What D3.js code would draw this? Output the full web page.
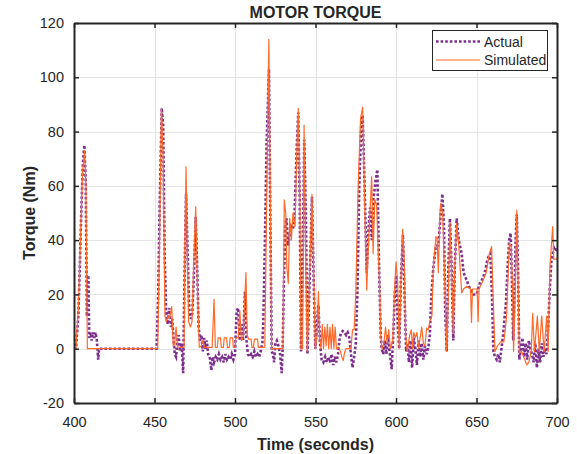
<!DOCTYPE html>
<html>
<head>
<meta charset="utf-8">
<script src="https://cdn.jsdelivr.net/npm/d3@7"></script>
<style>
  html, body { margin: 0; padding: 0; background: #fff; }
  svg text { font-family: "Liberation Sans", Arial, Helvetica, sans-serif; fill: #262626; }
</style>
</head>
<body>
<div id="chart"></div>
<script>
// time (s) and torque (Nm)
var actualTime = [400,401.2,402.7,403.6,404.5,405.5,406.4,407.3,408,408.9,409.5,410.3,411,411.8,412.6,413.4,414.2,415,415.6,451.3,
  452.3,453.3,454.5,455.4,456.3,457.2,458.2,459.2,460.2,461,461.8,462.6,463.4,464.2,465,465.8,466.8,467.8,468.6,469.6,
  470.6,471.6,472.6,473.5,474.5,475.6,476.6,477.4,478.3,479.2,480,480.8,481.7,482.5,483.3,484.3,485.3,486.2,487,488,
  489,490,491,492,493,494,495,496,497,498,499,500,501,502,503,504,505,506.2,507,508,
  509,510,511,512,513,514,515,516,517,517.6,518.6,519.6,521.1,522,522.8,523.5,524.3,525.1,526,527,
  528,529,529.6,530.4,531.2,532,533,534,535,536,537,538.2,539.3,540.2,541,542,543,544,545,546.2,
  547.8,549,549.9,551,551.8,552.8,553.8,554.9,556,557,558,559,560,561,562,563,564,565,566,567,
  568,569,570,571,572,573,574,575,576,577.2,578.4,579.3,580.5,581.8,583,583.9,585,586,587.3,588.4,
  589.5,590.5,591.1,592.1,593,594,595,596,597.3,598.3,599.2,600.2,601.2,602,603,604.3,605.3,606.3,607.2,608,
  609,610,611,612,613,614,615,616,617,618,619,620,621,622,623.2,624.8,626.3,627.8,628.8,629.8,
  630.5,631.5,632.5,633.5,634.5,635.6,636.5,637.7,639,640.8,642,644,646,648,650,652,654,655.5,656.5,657.5,
  658.6,659.6,660.5,661.5,662.5,663.5,664.5,665.5,666.5,667.5,668.3,669.3,670.3,671.2,672,672.8,673.6,674.3,675,675.8,
  676.6,677.5,678.5,679.5,680.5,681.5,682.5,683.5,684.5,685.5,686.5,687.5,688.5,689.5,690.5,691.5,692.5,693.5,694.5,695.5,
  696.5,697.3,698.2,699,700];
var actualTorque = [0,0,12,30,50,68,75,62,12,27,4,6,3,6,4,6,3,-4,0,0,
  20,55,88.6,82,35,14,9,15,8,11,4,-2,-3,3,5,-1,2,-9,25,57,
  35,14,11,13,28,48.6,28,8,3,5,-1,4,0,3,-2,-3,-8,-3,-5,-3,
  -4,-2,-4,-3,-5,-2,-4,-3,-4,-2,-4,-2,14,15,3,9,3,21,4,-2,
  -3,-2,-3,-1,-3,-2,-3,-1,2,10,40,75,103,45,-1,-2,-5,2,3,1,
  -2,-9,0,25,45,48,38,42,45,44,50,72,87,55,-1,30,77,50,-2,22,
  56,22,0,10,16,2,-4,-5,-3,-5,-3,-5,-2,-6,-3,-5,-2,4,6,6.5,
  6,5,6,4,-2,-7,-3,1.6,20,60,82,86,60,28,45,52,40,55,62,66,
  30,5,0,-2,3,-2,5,-1,-7.5,5,20,27,8,0,25,42,20,-1,2,-5,
  3,-7,4,0,-6,3,-3,2,-4,1,-2,0,5,20,30,38,38,50,57,45,
  15,-1,30,48,30,3,30,48,40,35,28,25,22,20,20,24,26,29,32,34,
  35,20,-1,-3,-4,-2,-5,0,5,12,17,30,40,42.6,25,3,20,40,49.5,30,
  -4,0,4,-3,2,-4,3,0,-2,-5,2,-7,0,-5,2,-3,0,-2,8,22,
  32,35,37,36,37];

var simTime = [400,401.2,402.7,404,405.3,406.6,407.4,408.3,452,453,454.3,455.4,456.5,457.3,458.3,459.3,460.7,461.7,462.6,463.4,
  464.3,466,468.4,468.9,469.6,470.4,471.2,472.3,473.3,474.3,475.6,476.6,477.8,479,480,481,483,485,485.8,487,
  487.8,489,489.5,491,491.5,492.8,493.3,494.8,495.3,496.5,497,498.5,499,500,500.5,502,503,504,505,506.8,
  507.6,508.5,510,510.5,511.5,512,514,514.5,518.5,521,522.8,529.8,530.6,531.5,532.2,533.1,534,535,536,537.3,
  538.3,539.3,540.3,541,542,542.9,544,544.9,546,547.8,549,549.9,551,551.8,552.6,553.4,554.2,555,555.8,556.6,
  557.4,558.2,559,559.8,560.6,561.4,562.2,563,564.5,565.5,566.3,567.2,568.2,569,571,572,573,574,575,576.5,
  578,579.3,580.5,581.8,583,584.9,585.8,586.8,588,589,589.8,590.5,591.3,592.5,593.5,594.5,595.5,596.5,598,599,
  600,601,602,603.3,604.1,605,606,607,608.5,609.5,610.3,611,612,613,614,615,616,617,618,619,
  620,621,622.3,623.2,624.8,625.5,626.3,627.3,627.8,629,630.5,631.5,632.5,633.5,634.5,635.6,636.5,637.7,639,640.8,
  642,644,646.3,646.9,647.5,650.4,651,651.6,654,656,658,659.4,660.3,661.5,663,665,667,668.7,669.5,670.4,
  671.5,672.5,673,674,675,676.6,678,680,681.2,682.5,684,684.9,686,687.8,689,690.5,692,693.6,694.5,695.6,
  697.3,698,700];
var simTorque = [0,0,15,40,65,73,60,0,0,35,88.6,70,12,10,12,11,15.5,0.7,2,8,
  0.7,0.5,0.5,40,67,35,10,8,10,30,52.3,25,0.5,1,3,0.5,0.5,0.5,0.5,18.2,
  0.5,0.5,4,4,0.5,0.5,4,4,0.5,0.5,4,4,0.5,0.5,4,4,14,3,4,28,
  5,3.5,3.5,0.5,0.5,3.5,3.5,0.5,0.5,114,0,0,54.8,50,30,24,48,40,50,45,
  70,88.6,55,0,0,82.4,30,-1,20,56.9,25,0,5,21,4,0,9,0,8,1,
  9,0,8,0,9,0,8,0,0.5,-1,-3,-4.4,-1,0,0,0,7,7,20,60,
  85,89,55,21.6,40,63.4,35,55,53,35,24.6,5,0,2,8,2,7,0,3,20,
  32,25,0,30,44,35,5,-1,5,7,0,6,4,6,0,4,8,2,1,7.6,
  7,10,12,30.2,41.3,41,28,50,53.6,50,20,-1,20,46.3,30,5.8,30,46.3,38,20.5,
  22,23,22,9.7,22,22,10,22,25,28,35,37.6,20,-1,1,2.5,2.5,11.8,25,38.8,
  38,20,-1,20,51.1,-1.6,-1,-4,-6,-5,-1,13,-1,12,-1,12,-1,12,-1,30,
  45,33,33];

var xTicks = [400, 450, 500, 550, 600, 650, 700];
var yTicks = [-20, 0, 20, 40, 60, 80, 100, 120];
var seriesNames = ["Actual", "Simulated"];

var W = 577, H = 454;
var plotL = 74, plotR = 557, plotT = 23, plotB = 403;
var ink = "#262626";
var purple = "#7E2F8E", orange = "#FF6929";

var svg = d3.select("#chart").append("svg")
    .attr("width", W)
    .attr("height", H);

var x = d3.scaleLinear().domain([400, 700]).range([plotL, plotR]);
var y = d3.scaleLinear().domain([-20, 120]).range([plotB, plotT]);

// grid
var grid = svg.append("g").attr("stroke", "#e5e5e5").attr("stroke-width", 1);
grid.selectAll(".gx").data(xTicks.slice(1, -1)).enter().append("line")
    .attr("x1", d => Math.round(x(d)) + 0.5).attr("x2", d => Math.round(x(d)) + 0.5)
    .attr("y1", plotT).attr("y2", plotB);
grid.selectAll(".gy").data(yTicks.slice(1, -1)).enter().append("line")
    .attr("y1", d => Math.round(y(d)) + 0.5).attr("y2", d => Math.round(y(d)) + 0.5)
    .attr("x1", plotL).attr("x2", plotR);

svg.append("clipPath").attr("id", "plot")
    .append("rect").attr("x", plotL).attr("y", plotT)
    .attr("width", plotR - plotL).attr("height", plotB - plotT);

var line = d3.line().x(d => x(d[0])).y(d => y(d[1]));
var actual = actualTime.map((t, i) => [t, actualTorque[i]]);
var sim = simTime.map((t, i) => [t, simTorque[i]]);

svg.append("path").datum(actual)
    .attr("clip-path", "url(#plot)")
    .attr("fill", "none")
    .attr("stroke", purple)
    .attr("stroke-width", 2.6)
    .attr("stroke-dasharray", "2.6,2")
    .attr("d", line);

svg.append("path").datum(sim)
    .attr("clip-path", "url(#plot)")
    .attr("fill", "none")
    .attr("stroke", orange)
    .attr("stroke-width", 1.2)
    .attr("stroke-linejoin", "round")
    .attr("d", line);

// axes, MATLAB style box with inward ticks
var plain = d => String(d);
function styleAxis(g) {
    g.select(".domain").attr("stroke", ink).attr("stroke-width", 2);
    g.selectAll(".tick line").attr("stroke", ink).attr("stroke-width", 1.5);
    g.selectAll("text").attr("font-size", "14.5px").attr("fill", ink)
        .attr("font-family", '"Liberation Sans", Arial, sans-serif');
}
svg.append("g").attr("transform", "translate(0," + plotB + ")")
    .call(d3.axisBottom(x).tickValues(xTicks).tickFormat(plain).tickSizeInner(-5).tickSizeOuter(0).tickPadding(14))
    .call(styleAxis);
svg.append("g").attr("transform", "translate(0," + plotT + ")")
    .call(d3.axisTop(x).tickValues(xTicks).tickSizeInner(-5).tickSizeOuter(0).tickFormat(""))
    .call(styleAxis);
svg.append("g").attr("transform", "translate(" + plotL + ",0)")
    .call(d3.axisLeft(y).tickValues(yTicks).tickFormat(plain).tickSizeInner(-5).tickSizeOuter(0).tickPadding(10))
    .call(styleAxis);
svg.append("g").attr("transform", "translate(" + plotR + ",0)")
    .call(d3.axisRight(y).tickValues(yTicks).tickSizeInner(-5).tickSizeOuter(0).tickFormat(""))
    .call(styleAxis);

// titles
svg.append("text").attr("x", (plotL + plotR) / 2).attr("y", 18)
    .attr("text-anchor", "middle").attr("font-size", "16px").attr("font-weight", "bold")
    .text("MOTOR TORQUE");
svg.append("text").attr("x", (plotL + plotR) / 2).attr("y", 450)
    .attr("text-anchor", "middle").attr("font-size", "16px").attr("font-weight", "bold")
    .text("Time (seconds)");
svg.append("text").attr("transform", "translate(35," + ((plotT + plotB) / 2) + ") rotate(-90)")
    .attr("text-anchor", "middle").attr("font-size", "16px").attr("font-weight", "bold")
    .text("Torque (Nm)");

// legend
var lg = svg.append("g");
lg.append("rect").attr("x", 432.5).attr("y", 30.5).attr("width", 115).attr("height", 40)
    .attr("fill", "#fff").attr("stroke", ink).attr("stroke-width", 1);
var legendStyles = [
    {color: purple, width: 2.6, dash: "2.6,2"},
    {color: orange, width: 1.2, dash: null}
];
seriesNames.forEach(function(name, i) {
    var ly = 41.5 + i * 18.5;
    lg.append("line").attr("x1", 436).attr("x2", 480).attr("y1", ly).attr("y2", ly)
        .attr("stroke", legendStyles[i].color).attr("stroke-width", legendStyles[i].width)
        .attr("stroke-dasharray", legendStyles[i].dash);
    lg.append("text").attr("x", 484).attr("y", ly + 5).attr("font-size", "14px").text(name);
});
</script>
</body>
</html>
